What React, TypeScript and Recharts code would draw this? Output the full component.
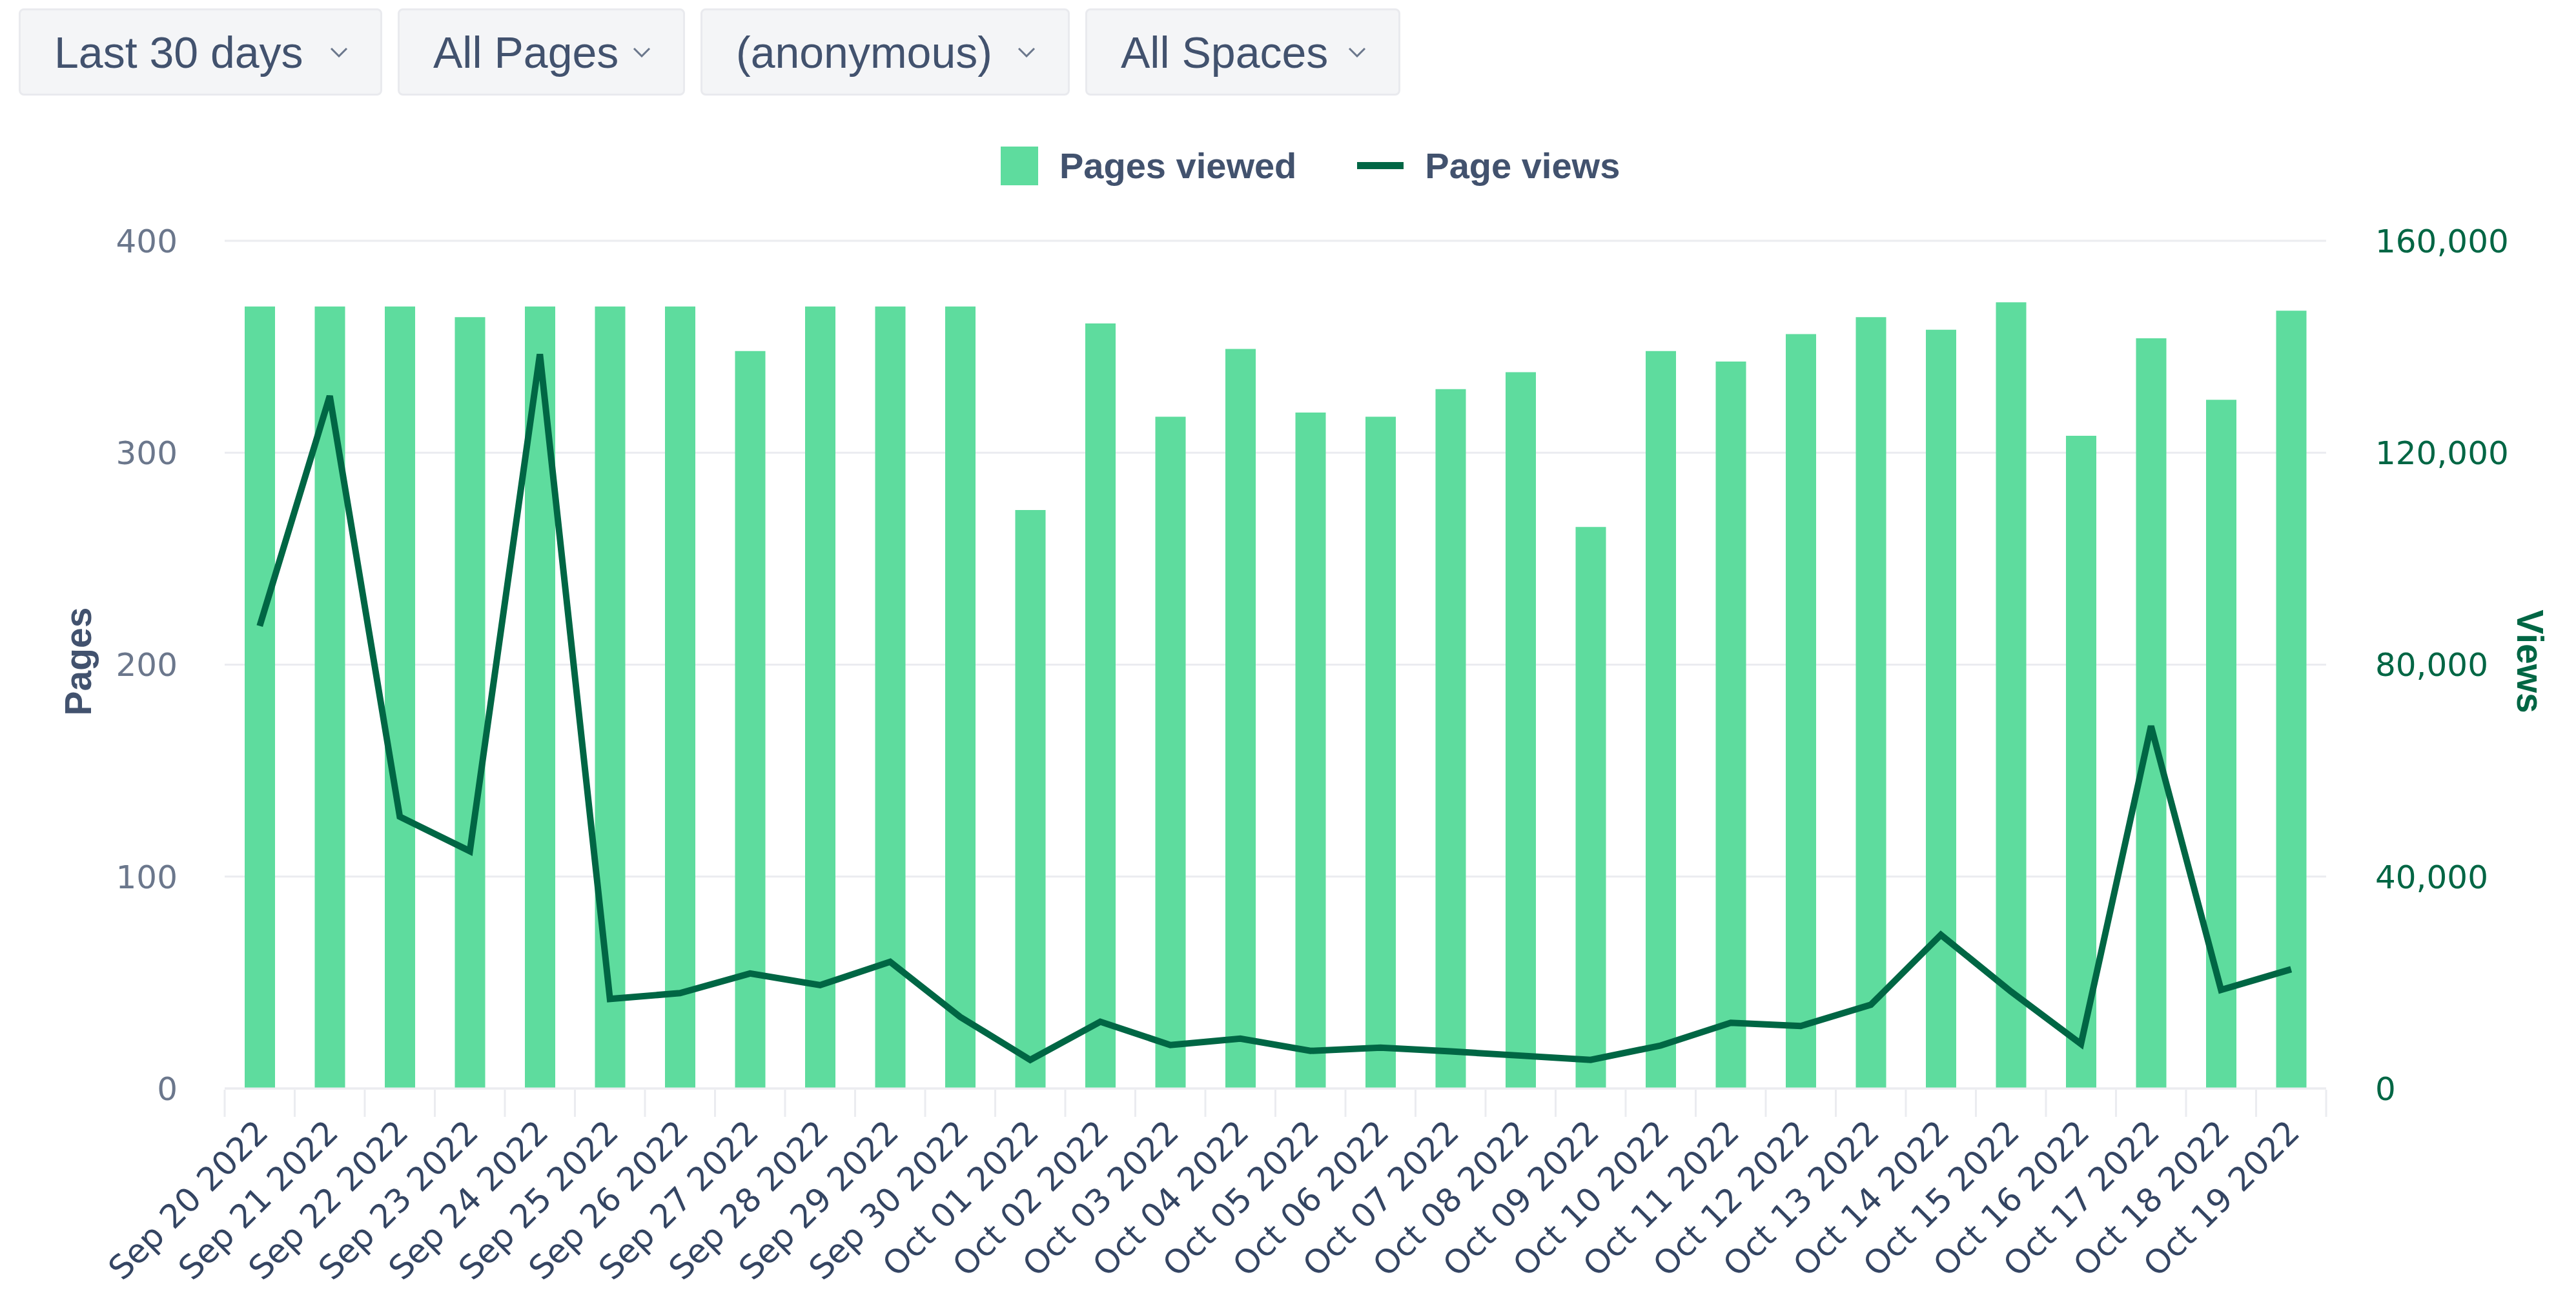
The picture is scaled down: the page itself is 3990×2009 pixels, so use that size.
import {
  ComposedChart,
  Bar,
  Line,
  XAxis,
  YAxis,
  CartesianGrid,
  Legend,
  Label,
} from "recharts";

const days = [
  "Sep 20 2022", "Sep 21 2022", "Sep 22 2022", "Sep 23 2022", "Sep 24 2022",
  "Sep 25 2022", "Sep 26 2022", "Sep 27 2022", "Sep 28 2022", "Sep 29 2022",
  "Sep 30 2022", "Oct 01 2022", "Oct 02 2022", "Oct 03 2022", "Oct 04 2022",
  "Oct 05 2022", "Oct 06 2022", "Oct 07 2022", "Oct 08 2022", "Oct 09 2022",
  "Oct 10 2022", "Oct 11 2022", "Oct 12 2022", "Oct 13 2022", "Oct 14 2022",
  "Oct 15 2022", "Oct 16 2022", "Oct 17 2022", "Oct 18 2022", "Oct 19 2022",
];

// pages viewed (left axis)
const pagesViewed = [
  369, 369, 369, 364, 369, 369, 369, 348, 369, 369,
  369, 273, 361, 317, 349, 319, 317, 330, 338, 265,
  348, 343, 356, 364, 358, 371, 308, 354, 325, 367,
];

// page views (right axis)
const pageViews = [
  87300, 130700, 51300, 44800, 138600, 16900, 18000, 21700, 19500, 23900,
  13500, 5400, 12600, 8200, 9400, 7100, 7700, 7000, 6200, 5400,
  8100, 12400, 11800, 15800, 29000, 18300, 8400, 68400, 18600, 22500,
];

const pageTicks = [0, 100, 200, 300, 400];
const viewTicks = [0, 40000, 80000, 120000, 160000];
const filters = ["Last 30 days", "All Pages", "(anonymous)", "All Spaces"];
const filterWidths = [563, 445, 572, 488];

const data = days.map((day, i) => ({
  day,
  pages: pagesViewed[i],
  views: pageViews[i],
}));

const CHART_W = 3974;
const CHART_H = 2001;
const LEFT_W = 340;
const RIGHT_W = 379;
const TOP = 365;
const X_H = 323;
const BAND = (CHART_W - LEFT_W - RIGHT_W) / days.length;

const BAR = "#5EDC9E";
const LINE = "#006644";
const GRID = "#EBECF0";
const SLATE = "#42526E";
const FONT = "'DejaVu Sans', sans-serif";
const UI_FONT = "'Liberation Sans', Arial, sans-serif";

function DayTick(props: any) {
  const { x, y, payload, index } = props;
  const half = BAND / 2;
  const tx = x + 16;
  const ty = y + 71;
  return (
    <g>
      <line x1={x - half} x2={x - half} y1={y + 2} y2={y + 44} stroke={GRID} strokeWidth={3} />
      {index === days.length - 1 && (
        <line x1={x + half} x2={x + half} y1={y + 2} y2={y + 44} stroke={GRID} strokeWidth={3} />
      )}
      <text
        x={tx}
        y={ty}
        transform={`rotate(-45 ${tx} ${ty})`}
        textAnchor="end"
        fill="#344563"
        fontSize={51}
        fontFamily={FONT}
      >
        {payload.value}
      </text>
    </g>
  );
}

function LegendContent() {
  return (
    <div
      style={{
        display: "flex",
        alignItems: "center",
        fontFamily: UI_FONT,
        fontWeight: 700,
        fontSize: 56,
        color: SLATE,
      }}
    >
      <span style={{ width: 58, height: 60, background: BAR, display: "inline-block" }} />
      <span style={{ marginLeft: 33 }}>Pages viewed</span>
      <span
        style={{
          width: 72,
          height: 11,
          background: LINE,
          display: "inline-block",
          marginLeft: 94,
        }}
      />
      <span style={{ marginLeft: 33 }}>Page views</span>
    </div>
  );
}

function Filters() {
  return (
    <div style={{ position: "absolute", top: 5, left: 21, display: "flex", gap: 24 }}>
      {filters.map((f, i) => (
        <div
          key={f}
          style={{
            width: filterWidths[i],
            height: 135,
            boxSizing: "border-box",
            background: "#F4F5F7",
            border: "3px solid #E9EAEE",
            borderRadius: 8,
            display: "flex",
            alignItems: "center",
            justifyContent: "space-between",
            padding: "0 50px 0 52px",
            fontFamily: UI_FONT,
            fontSize: 68,
            color: SLATE,
          }}
        >
          <span>{f}</span>
          <svg width={28} height={16}>
            <polyline points="2,2 14,14 26,2" fill="none" stroke="#6B778C" strokeWidth={3} />
          </svg>
        </div>
      ))}
    </div>
  );
}

function AxisTitle({ viewBox, dx, angle, color, text }: any) {
  const cx = viewBox.x + dx;
  const cy = viewBox.y + viewBox.height / 2 - 5;
  return (
    <text
      x={cx}
      y={cy}
      transform={`rotate(${angle} ${cx} ${cy})`}
      textAnchor="middle"
      dominantBaseline="central"
      fill={color}
      fontSize={57}
      fontWeight={700}
      fontFamily={UI_FONT}
    >
      {text}
    </text>
  );
}

export default function App() {
  return (
    <div style={{ position: "relative", width: CHART_W, height: CHART_H, background: "#fff" }}>
      <ComposedChart
        width={CHART_W}
        height={CHART_H}
        data={data}
        margin={{ top: TOP, right: 0, bottom: 0, left: 0 }}
        style={{ position: "absolute", top: 0, left: 0 }}
      >
        <CartesianGrid yAxisId="left" vertical={false} stroke={GRID} strokeWidth={3} />
        <XAxis
          dataKey="day"
          interval={0}
          height={X_H}
          tickSize={0}
          tickMargin={0}
          axisLine={{ stroke: GRID, strokeWidth: 3 }}
          tickLine={false}
          tick={<DayTick />}
        />
        <YAxis
          yAxisId="left"
          orientation="left"
          width={LEFT_W}
          domain={[0, 400]}
          ticks={pageTicks}
          axisLine={false}
          tickLine={false}
          tickSize={0}
          tickMargin={73}
          tick={{ fill: "#6B778C", fontSize: 50, fontFamily: FONT }}
        >
          <Label
            content={(p: any) => (
              <AxisTitle viewBox={p.viewBox} dx={113} angle={-90} color={SLATE} text="Pages" />
            )}
          />
        </YAxis>
        <YAxis
          yAxisId="right"
          orientation="right"
          width={RIGHT_W}
          domain={[0, 160000]}
          ticks={viewTicks}
          axisLine={false}
          tickLine={false}
          tickSize={0}
          tickMargin={76}
          tickFormatter={(v: number) => v.toLocaleString("en-US")}
          tick={{ fill: LINE, fontSize: 50, fontFamily: FONT }}
        >
          <Label
            content={(p: any) => (
              <AxisTitle viewBox={p.viewBox} dx={316} angle={90} color={LINE} text="Views" />
            )}
          />
        </YAxis>
        <Legend
          verticalAlign="middle"
          align="center"
          wrapperStyle={{ top: 216, left: 1542, width: 1200 }}
          content={<LegendContent />}
        />
        <Bar
          yAxisId="left"
          dataKey="pages"
          name="Pages viewed"
          fill={BAR}
          barSize={47}
          isAnimationActive={false}
        />
        <Line
          yAxisId="right"
          dataKey="views"
          name="Page views"
          stroke={LINE}
          strokeWidth={10}
          dot={false}
          activeDot={false}
          type="linear"
          isAnimationActive={false}
        />
      </ComposedChart>
      <Filters />
    </div>
  );
}
